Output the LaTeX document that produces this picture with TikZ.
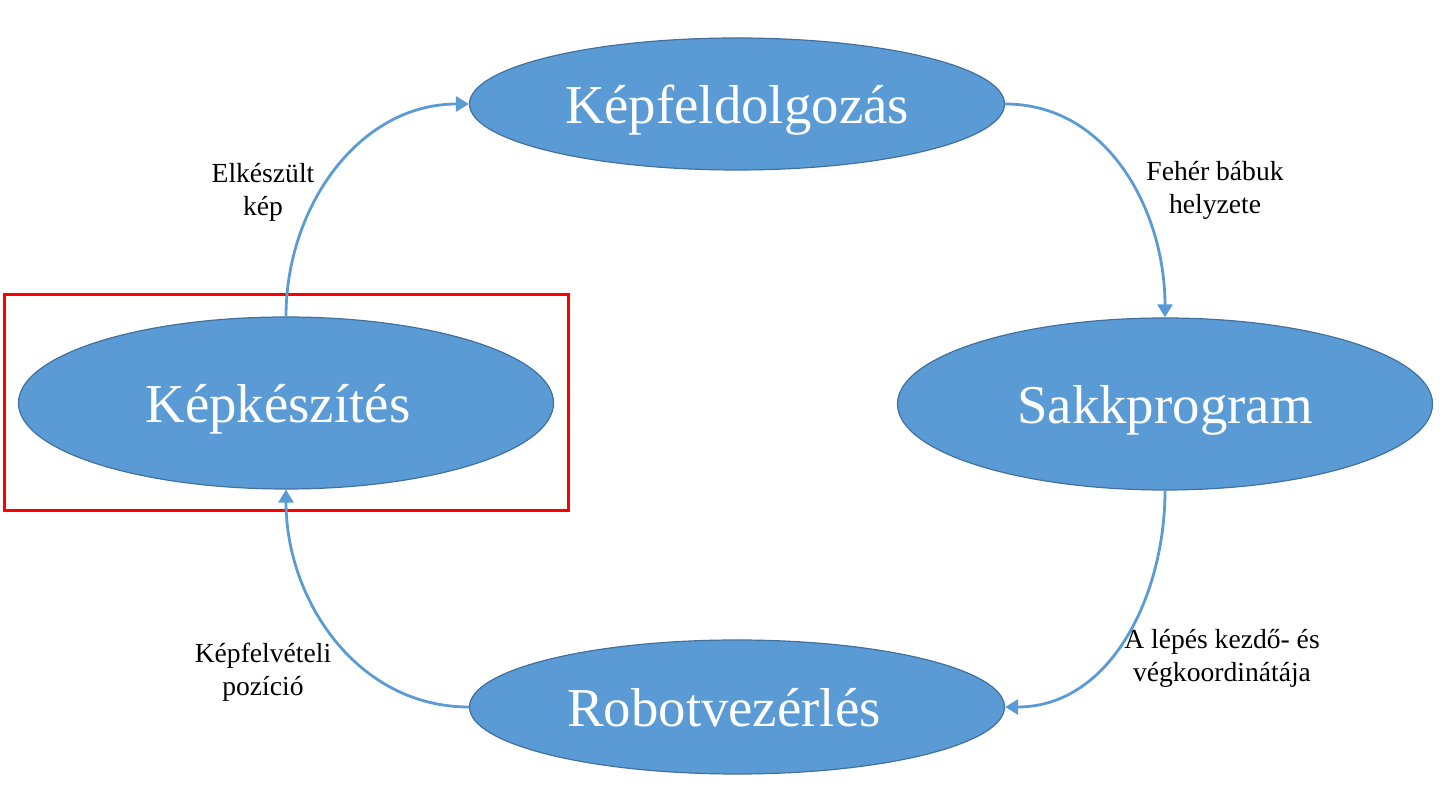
\documentclass[tikz,border=0pt]{standalone}
\usepackage{fontspec}
\setmainfont{Liberation Serif}
\usepackage{tikz}
\usetikzlibrary{arrows.meta, positioning, shapes.geometric}
\definecolor{stageblue}{HTML}{5B9BD5}
\definecolor{stageedge}{HTML}{41719C}
\definecolor{markred}{HTML}{FF0000}

\begin{document}
\begin{tikzpicture}[x=0.5pt, y=0.5pt,
  stage/.style={ellipse, draw=stageedge, line width=0.6pt, fill=stageblue, text=white,
    inner sep=0pt, text depth=0pt, minimum width=267.5pt, font=\fontsize{27.4}{32}\selectfont},
  flow/.style={draw=stageblue, line width=1.4pt, -{Triangle[length=6.5pt, width=7.5pt]}},
  lbl/.style={align=center, font=\fontsize{13.8}{16.5}\selectfont}]
\useasboundingbox (0,0) rectangle (1450,802);
% Stages of the loop
\node[stage, minimum height=66pt] (feld) at (737,698) {Képfeldolgozás};
\node[stage, minimum height=86pt] (sakk) at (1165,398) {Sakkprogram};
\node[stage, minimum height=67pt] (robot) at (737,95) {Robotvezérlés\hspace*{13pt}};
\node[stage, minimum height=86pt] (kesz) at (286,399) {Képkészítés\hspace*{8pt}};
% Highlight frame
\draw[markred, line width=1.5pt] (4,291) rectangle (568,507);
% Connectors
\draw[flow] (kesz.north) to[out=90, in=180] (feld.west);
\draw[flow] (feld.east) to[out=0, in=90] (sakk.north);
\draw[flow] (sakk.south) to[out=-90, in=0] (robot.east);
\draw[flow] (robot.west) to[out=180, in=-90] (kesz.south);
% Connector labels
\node[lbl] (lkesz) at (263,610) {Elkészült\\kép};
\node[lbl] (lfeld) at (1215,612) {Fehér bábuk\\helyzete};
\node[lbl] (lsakk) at (1222,144) {A lépés kezdő- és\\végkoordinátája};
\node[lbl] (lrobot) at (263,130) {Képfelvételi\\pozíció};
\end{tikzpicture}
\end{document}
